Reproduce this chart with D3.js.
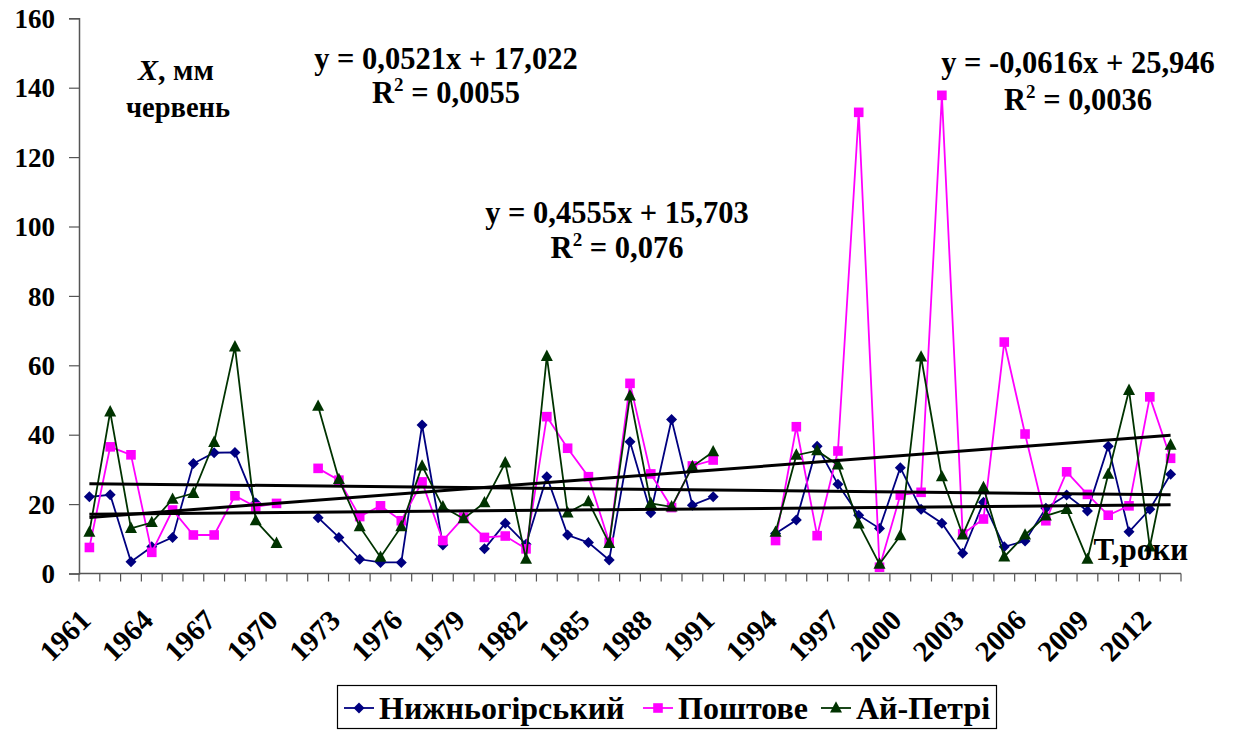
<!DOCTYPE html>
<html>
<head>
<meta charset="utf-8">
<script src="https://cdn.jsdelivr.net/npm/d3@7"></script>
<style>
  body { margin: 0; background: #fff; }
  svg { display: block; }
</style>
</head>
<body>
<svg id="chart" width="1235" height="731"></svg>
<script>
// June precipitation, mm, 1961–2013
const years = d3.range(1961, 2014);

const nyzhnohirskyi = [
  22.1, 22.7, 3.4, 7.7, 10.4, 31.7, 34.8, 34.9, 20.3, null,
  null, 16.1, 10.4, 4.1, 3.2, 3.2, 42.8, 8.2, null, 7.1,
  14.5, 8.4, 27.9, 11.1, 8.9, 3.9, 38.0, 17.5, 44.4, 19.7,
  22.1, null, null, 11.5, 15.4, 36.7, 25.7, 16.8, 13.0, 30.5,
  18.5, 14.5, 5.8, 20.5, 7.7, 9.4, 18.8, 22.6, 18.0, 36.7,
  12.0, 18.5, 28.6
];

const poshtove = [
  7.5, 36.5, 34.2, 6.1, 18.3, 11.1, 11.1, 22.4, 19.2, 20.2,
  null, 30.3, 26.9, 16.4, 19.5, 15.2, 26.4, 9.5, 16.2, 10.4,
  10.8, 7.1, 45.2, 36.1, 27.9, 9.0, 54.8, 28.7, 19.0, 31.0,
  32.7, null, null, 9.5, 42.3, 10.9, 35.3, 132.9, 1.8, 22.6,
  23.4, 137.8, 11.4, 15.7, 66.7, 40.2, 15.2, 29.3, 22.8, 16.8,
  19.5, 50.9, 33.2
];

const aiPetri = [
  11.9, 46.6, 13.0, 14.7, 21.4, 23.1, 37.8, 65.3, 15.2, 8.7,
  null, 48.2, 27.1, 13.5, 4.7, 13.5, 31.0, 19.2, 15.8, 20.4,
  31.9, 4.1, 62.6, 17.5, 20.7, 8.7, 51.2, 20.2, 19.2, 30.8,
  35.1, null, null, 11.9, 34.1, 35.4, 31.3, 14.3, 2.7, 10.9,
  62.4, 27.9, 11.1, 24.8, 4.8, 11.1, 16.6, 18.5, 4.1, 28.6,
  52.8, 7.7, 37.0
];

const seriesNames = ["Нижньогірський", "Поштове", "Ай-Петрі"];
const yTicks = [0, 20, 40, 60, 80, 100, 120, 140, 160];
const xTickYears = d3.range(1961, 2014, 3);

// linear trends y = a·x + b, x = year index starting at 1
const trendSlopes = [0.0521, 0.4555, -0.0616];
const trendIntercepts = [17.022, 15.703, 25.946];
const trendEquations = ["y = 0,0521x + 17,022", "y = 0,4555x + 15,703", "y = -0,0616x + 25,946"];
const trendR2 = ["0,0055", "0,076", "0,0036"];

const svg = d3.select("#chart");

const x = d3.scaleBand().domain(years).range([79, 1181]).padding(0);
const cx = yr => x(yr) + x.bandwidth() / 2;
const y = d3.scaleLinear().domain([0, 160]).range([573.5, 18.3]);

// axes
const yAxis = d3.axisLeft(y).tickValues(yTicks).tickSize(10).tickPadding(14);
const gy = svg.append("g").attr("transform", "translate(79,0)").call(yAxis);
gy.select(".domain").attr("stroke", "#555").attr("stroke-width", 1.5);
gy.selectAll(".tick line").attr("stroke", "#555").attr("stroke-width", 1.2);
gy.selectAll(".tick text").attr("fill", "#000").attr("dy", "0.34em").attr("font-size", 27);

const gx = svg.append("g").attr("transform", "translate(0,573.5)");
gx.append("line").attr("x1", 79).attr("x2", 1181).attr("stroke", "#555").attr("stroke-width", 1.5);
gx.selectAll("line.tk").data(years.concat([null])).join("line")
  .attr("class", "tk")
  .attr("x1", (d, i) => 79 + i * x.bandwidth()).attr("x2", (d, i) => 79 + i * x.bandwidth())
  .attr("y1", 0).attr("y2", 8).attr("stroke", "#555").attr("stroke-width", 1.2);

svg.append("g").selectAll("text").data(xTickYears).join("text")
  .attr("transform", d => `translate(${cx(d) + 3},622) rotate(-45)`)
  .attr("text-anchor", "end")
  .attr("font-size", 29)
  .text(d => d);

// trend lines
const trendG = svg.append("g");
trendSlopes.forEach((a, k) => {
  const b = trendIntercepts[k];
  const i0 = 1, i1 = years.length;
  trendG.append("line")
    .attr("x1", cx(years[0])).attr("y1", y(a * i0 + b))
    .attr("x2", cx(years[years.length - 1])).attr("y2", y(a * i1 + b))
    .attr("stroke", "#000").attr("stroke-width", 3);
});

// series
const markers = {
  diamond: "M0,-5.5L5.5,0L0,5.5L-5.5,0Z",
  square: "M-4.8,-4.8H4.8V4.8H-4.8Z",
  triangle: "M0,-6.8L6,4.6L-6,4.6Z"
};
const series = [
  { name: seriesNames[0], values: nyzhnohirskyi, color: "#000080", marker: markers.diamond },
  { name: seriesNames[1], values: poshtove, color: "#ff00ff", marker: markers.square },
  { name: seriesNames[2], values: aiPetri, color: "#003300", marker: markers.triangle }
];

const line = d3.line()
  .defined(d => d.v !== null)
  .x(d => cx(d.yr))
  .y(d => y(d.v));

const seriesG = svg.append("g");
series.forEach(s => {
  const pts = years.map((yr, i) => ({ yr, v: s.values[i] }));
  seriesG.append("path").datum(pts)
    .attr("d", line).attr("fill", "none")
    .attr("stroke", s.color).attr("stroke-width", 1.8);
  seriesG.append("g").selectAll("path").data(pts.filter(d => d.v !== null)).join("path")
    .attr("d", s.marker)
    .attr("transform", d => `translate(${cx(d.yr)},${y(d.v)})`)
    .attr("fill", s.color);
});

// trend lines sit above the series
svg.node().appendChild(trendG.node());

// annotations
const title = svg.append("text").attr("x", 176).attr("y", 80).attr("text-anchor", "middle").attr("font-size", 30);
title.append("tspan").attr("font-style", "italic").text("X");
title.append("tspan").text(", мм");
svg.append("text").attr("x", 178).attr("y", 117).attr("text-anchor", "middle").attr("font-size", 28.5).text("червень");

const eqPos = [[446, 69, 103], [617, 223, 258], [1078, 73, 110]];
trendEquations.forEach((eq, k) => {
  const [ex, ey1, ey2] = eqPos[k];
  svg.append("text").attr("x", ex).attr("y", ey1).attr("text-anchor", "middle").attr("font-size", 30.5).text(eq);
  const r = svg.append("text").attr("x", ex).attr("y", ey2).attr("text-anchor", "middle").attr("font-size", 30.5);
  r.append("tspan").text("R");
  r.append("tspan").attr("font-size", 19).attr("dy", -12).text("2");
  r.append("tspan").attr("dy", 12).text(" = " + trendR2[k]);
});

svg.append("text").attr("x", 1188).attr("y", 560).attr("text-anchor", "end").attr("font-size", 31).text("T,роки");

// legend
const lg = svg.append("g");
lg.append("rect").attr("x", 337.5).attr("y", 685.5).attr("width", 659).attr("height", 43)
  .attr("fill", "#fff").attr("stroke", "#000").attr("stroke-width", 1.2);
const legendX = [344, 643, 821];
series.forEach((s, k) => {
  const lx = legendX[k], ly = 708;
  lg.append("line").attr("x1", lx).attr("x2", lx + 30).attr("y1", ly).attr("y2", ly)
    .attr("stroke", s.color).attr("stroke-width", 1.8);
  lg.append("path").attr("d", s.marker).attr("transform", `translate(${lx + 15},${ly})`).attr("fill", s.color);
  lg.append("text").attr("x", lx + 35).attr("y", ly + 11).attr("font-size", 32).text(s.name);
});

// typeface for every label
svg.selectAll("text")
  .style("font-family", "'Liberation Serif', 'Times New Roman', serif")
  .style("font-weight", "bold")
  .style("fill", "#000");
</script>
</body>
</html>
